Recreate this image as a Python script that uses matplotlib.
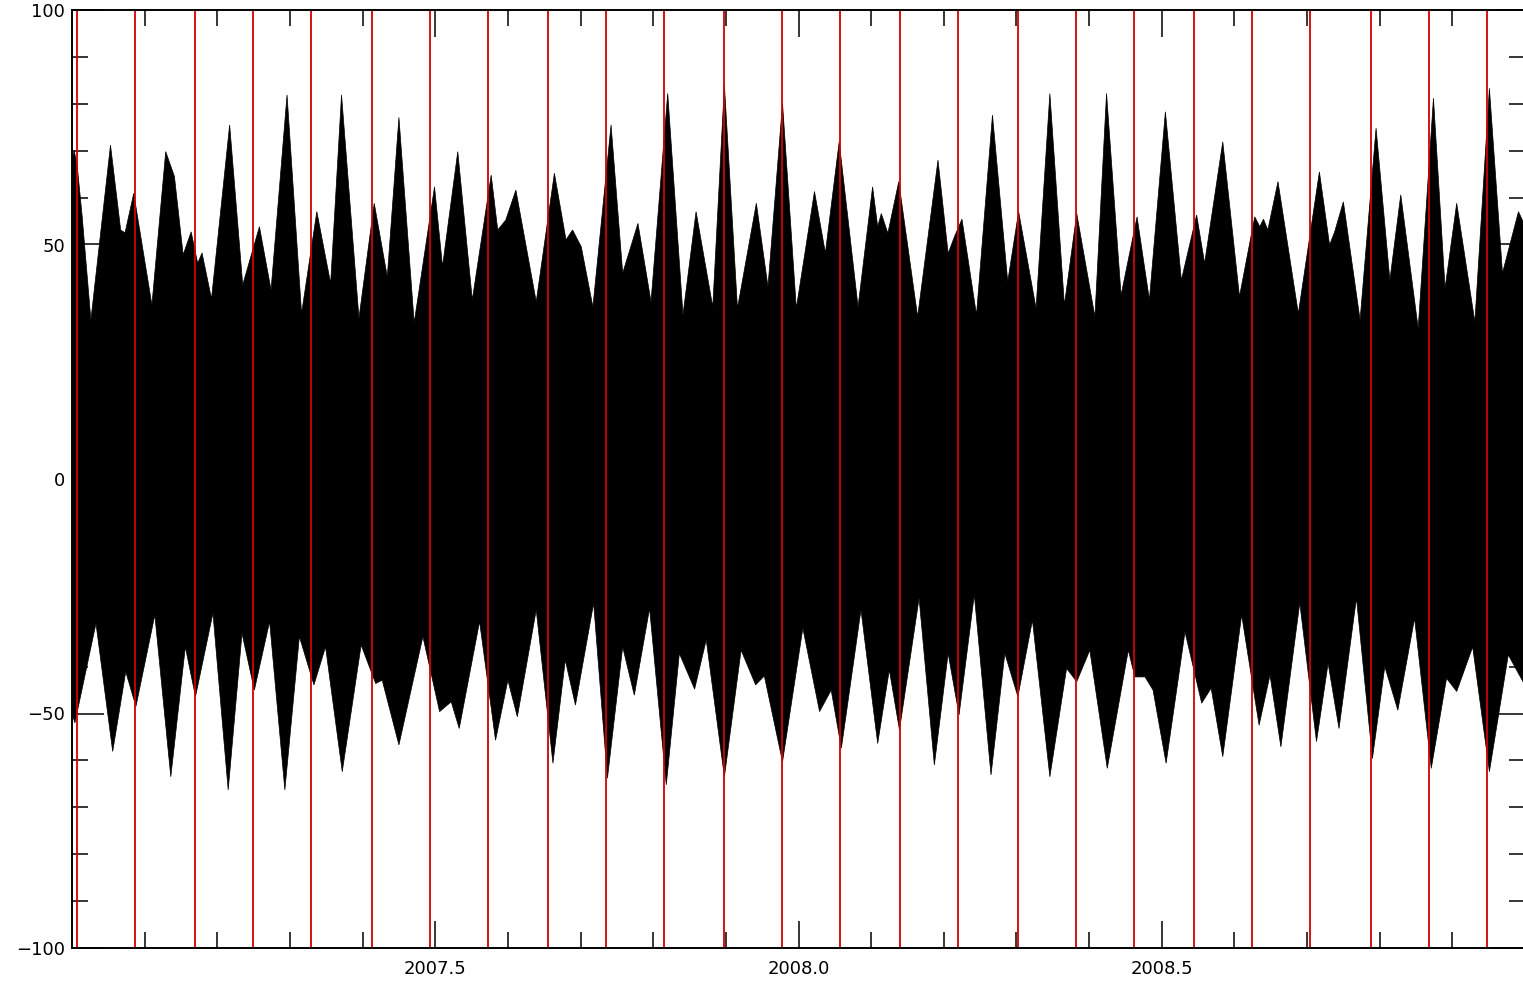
import matplotlib
matplotlib.use("Agg")
import matplotlib.pyplot as plt
import numpy as np

# upper envelope of the signal (decimal year, value)
upper_t = [2007.000, 2007.003, 2007.007, 2007.014, 2007.026, 2007.053, 2007.067, 2007.073,
           2007.085, 2007.110, 2007.129, 2007.141, 2007.153, 2007.164, 2007.173, 2007.179,
           2007.192, 2007.217, 2007.235, 2007.258, 2007.274, 2007.296, 2007.316, 2007.337,
           2007.356, 2007.371, 2007.395, 2007.416, 2007.434, 2007.450, 2007.471, 2007.499,
           2007.510, 2007.531, 2007.551, 2007.577, 2007.586, 2007.597, 2007.611, 2007.639,
           2007.664, 2007.680, 2007.689, 2007.701, 2007.717, 2007.742, 2007.758, 2007.779,
           2007.797, 2007.820, 2007.841, 2007.859, 2007.882, 2007.898, 2007.916, 2007.942,
           2007.958, 2007.978, 2007.997, 2008.022, 2008.037, 2008.056, 2008.082, 2008.102,
           2008.109, 2008.114, 2008.123, 2008.138, 2008.164, 2008.192, 2008.206, 2008.215,
           2008.225, 2008.245, 2008.267, 2008.288, 2008.303, 2008.327, 2008.346, 2008.366,
           2008.383, 2008.408, 2008.424, 2008.444, 2008.466, 2008.483, 2008.505, 2008.527,
           2008.548, 2008.559, 2008.584, 2008.607, 2008.628, 2008.635, 2008.640, 2008.646,
           2008.660, 2008.688, 2008.717, 2008.731, 2008.738, 2008.750, 2008.773, 2008.795,
           2008.814, 2008.829, 2008.853, 2008.874, 2008.890, 2008.906, 2008.931, 2008.951,
           2008.969, 2008.991, 2009.000]
upper_v = [68, 70, 67, 56, 33.9, 71.2, 53.1, 52.5,
           60.9, 37.1, 69.8, 64.5, 47.8, 52.7, 46.0, 48.2,
           38.4, 75.5, 41.4, 53.8, 40.3, 81.9, 35.3, 57.0,
           41.7, 81.9, 34.3, 58.8, 43.1, 77.1, 33.3, 62.3,
           45.3, 69.8, 38.2, 64.8, 53.1, 55.2, 61.6, 37.8,
           65.2, 51.0, 53.1, 49.5, 36.7, 75.5, 43.9, 54.5,
           37.8, 82.2, 35.0, 57.0, 36.7, 84.0, 36.4, 58.8,
           41.0, 80.1, 36.4, 61.3, 48.2, 71.9, 36.7, 62.3,
           53.8, 56.6, 52.4, 63.4, 34.6, 68.0, 48.1, 51.8,
           55.4, 35.0, 77.6, 42.1, 57.0, 36.4, 82.2, 37.1,
           56.6, 34.6, 82.2, 39.2, 55.9, 38.2, 78.3, 42.4,
           56.3, 46.0, 71.9, 38.9, 55.9, 53.8, 55.4, 53.1,
           63.4, 35.3, 65.5, 49.9, 52.7, 59.1, 33.9, 74.8,
           42.4, 60.6, 32.1, 81.2, 40.7, 58.8, 33.5, 83.3,
           43.9, 57.0, 54.0]

# lower envelope of the signal (decimal year, value)
lower_t = [2007.000, 2007.004, 2007.033, 2007.056, 2007.074, 2007.088, 2007.114, 2007.136,
           2007.156, 2007.170, 2007.194, 2007.215, 2007.234, 2007.251, 2007.272, 2007.293,
           2007.313, 2007.333, 2007.349, 2007.372, 2007.398, 2007.418, 2007.427, 2007.450,
           2007.483, 2007.506, 2007.522, 2007.533, 2007.561, 2007.583, 2007.600, 2007.613,
           2007.639, 2007.662, 2007.679, 2007.693, 2007.718, 2007.737, 2007.758, 2007.774,
           2007.795, 2007.818, 2007.836, 2007.857, 2007.873, 2007.898, 2007.921, 2007.941,
           2007.953, 2007.978, 2008.006, 2008.029, 2008.045, 2008.059, 2008.086, 2008.109,
           2008.125, 2008.139, 2008.166, 2008.187, 2008.206, 2008.221, 2008.242, 2008.265,
           2008.284, 2008.302, 2008.322, 2008.346, 2008.369, 2008.383, 2008.401, 2008.425,
           2008.454, 2008.463, 2008.477, 2008.488, 2008.506, 2008.532, 2008.555, 2008.568,
           2008.584, 2008.610, 2008.634, 2008.649, 2008.664, 2008.690, 2008.713, 2008.729,
           2008.744, 2008.768, 2008.790, 2008.807, 2008.825, 2008.848, 2008.871, 2008.892,
           2008.906, 2008.928, 2008.951, 2008.977, 2009.000]
lower_v = [-50, -52, -30.8, -58.1, -41.1, -48.5, -29.0, -63.5,
           -35.8, -46.4, -28.6, -66.3, -32.9, -45.0, -30.4, -66.3,
           -33.6, -43.9, -35.8, -62.4, -35.4, -43.6, -42.9, -56.7,
           -33.6, -49.6, -47.5, -53.2, -30.4, -55.7, -42.9, -50.7,
           -27.9, -60.6, -38.6, -48.2, -26.5, -63.8, -35.8, -46.1,
           -27.6, -65.2, -37.2, -44.8, -34.3, -63.5, -36.5, -43.9,
           -42.0, -60.3, -31.8, -49.6, -45.0, -57.4, -27.9, -56.4,
           -40.7, -53.5, -25.4, -61.0, -37.2, -50.3, -24.7, -63.1,
           -37.2, -46.4, -30.1, -63.5, -40.4, -43.2, -36.5, -61.7,
           -36.5, -42.2, -42.2, -45.0, -60.6, -32.6, -47.8, -44.6,
           -59.2, -29.0, -52.5, -41.8, -57.1, -26.4, -56.0, -39.3,
           -53.2, -25.4, -59.6, -40.0, -49.3, -29.7, -61.7, -42.5,
           -45.3, -35.8, -62.4, -37.5, -44.0]

# full moon markers (decimal year)
moon_t = [2007.0065, 2007.0868, 2007.1694, 2007.2493, 2007.3292, 2007.4123, 2007.4921,
          2007.5720, 2007.6547, 2007.7346, 2007.8145, 2007.8971, 2007.9770, 2008.0569,
          2008.1395, 2008.2200, 2008.3026, 2008.3820, 2008.4619, 2008.5448, 2008.6249,
          2008.7043, 2008.7875, 2008.8674, 2008.9472]

xticks = [2007.5, 2008.0, 2008.5]
xlabels = ["2007.5", "2008.0", "2008.5"]
yticks = [-100, -50, 0, 50, 100]

W, H = 1523, 984
fig = plt.figure(figsize=(W / 100, H / 100), dpi=100)
ax = fig.add_axes([72 / W, (H - 948) / H, (1525 - 72) / W, (948 - 10) / H])

poly_x = np.concatenate([upper_t, lower_t[::-1]])
poly_y = np.concatenate([upper_v, lower_v[::-1]])
ax.fill(poly_x, poly_y, color="black", lw=0.5, zorder=2)

for t in moon_t:
    ax.axvline(t, color="#d40000", lw=1.3, zorder=3)

ax.set_xlim(2007.0, 2009.0)
ax.set_ylim(-100, 100)
ax.set_xticks(xticks)
ax.set_xticklabels(xlabels)
ax.set_xticks(np.arange(2007.1, 2009.0, 0.1), minor=True)
ax.set_yticks(yticks)
ax.set_yticks(np.arange(-90, 100, 10), minor=True)

for s in ax.spines.values():
    s.set_linewidth(1.4)
    s.set_zorder(4)

ax.tick_params(axis="both", which="both", direction="in", top=True, right=True,
               width=1.1, labelsize=13, colors="black")
ax.tick_params(axis="x", which="major", length=19.5, pad=9)
ax.tick_params(axis="y", which="major", length=23, pad=5)
ax.tick_params(axis="both", which="minor", length=11.5)

fig.savefig("out.png", dpi=100)
